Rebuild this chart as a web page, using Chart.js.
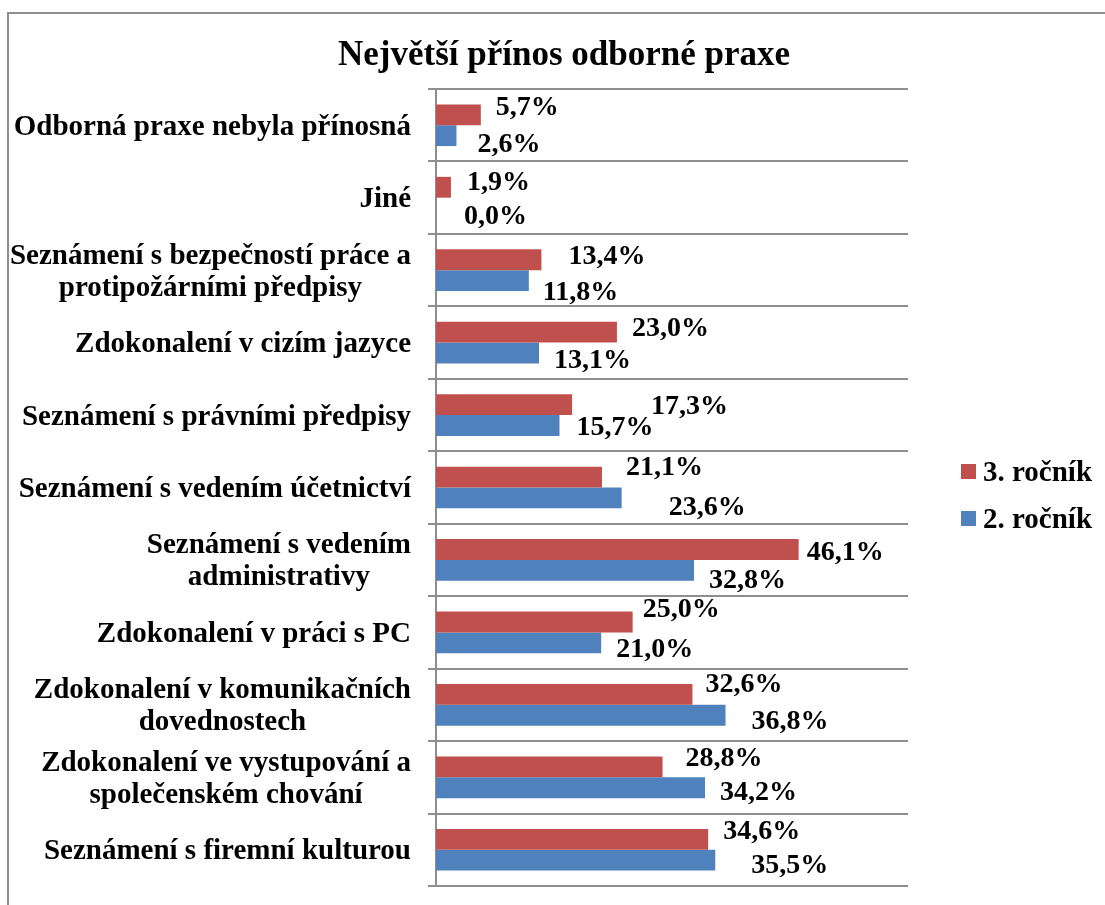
<!DOCTYPE html>
<html>
<head>
<meta charset="utf-8">
<script src="https://cdn.jsdelivr.net/npm/chart.js@4.4.0/dist/chart.umd.min.js"></script>
<style>
  html, body { margin: 0; padding: 0; background: #ffffff; }
  #wrap { position: relative; width: 1105px; height: 905px; }
</style>
</head>
<body>
<div id="wrap"><canvas id="c"></canvas></div>
<script>
const chartTitle = "Největší přínos odborné praxe";
const categories = [
  "Odborná praxe nebyla přínosná",
  "Jiné",
  ["Seznámení s bezpečností práce a", "protipožárními předpisy"],
  "Zdokonalení v cizím jazyce",
  "Seznámení s právními předpisy",
  "Seznámení s vedením účetnictví",
  ["Seznámení s vedením", "administrativy"],
  "Zdokonalení v práci s PC",
  ["Zdokonalení v komunikačních", "dovednostech"],
  ["Zdokonalení ve vystupování a", "společenském chování"],
  "Seznámení s firemní kulturou"
];
const seriesNames = ["3. ročník", "2. ročník"];
const values3 = [5.7, 1.9, 13.4, 23.0, 17.3, 21.1, 46.1, 25.0, 32.6, 28.8, 34.6];
const values2 = [2.6, 0.0, 11.8, 13.1, 15.7, 23.6, 32.8, 21.0, 36.8, 34.2, 35.5];

// label placement nudges (pixels, relative to bar end / bar centre), as in the original
const labelNudge3 = [[15,-9],[16,-7],[27,-5],[15,-6],[79,0],[24,-12],[8,1],[10,-14],[13,-12],[23,-10],[15,-10]];
const labelNudge2 = [[21,7],[28,6],[14,10],[15,5],[17,0],[47,8],[15,8],[15,5],[26,4],[15,3],[36,3]];

const RED = '#C0504D';
const BLUE = '#4F81BD';
const GRID = '#8e8e8e';
const FONT = '"Liberation Serif", "Times New Roman", serif';

function fmt(v) { return v.toFixed(1).replace('.', ',') + '%'; }

const customPlugin = {
  id: 'customDraw',
  beforeDraw(chart) {
    const ctx = chart.ctx;
    ctx.save();
    ctx.fillStyle = '#ffffff';
    ctx.fillRect(0, 0, chart.width, chart.height);
    ctx.strokeStyle = GRID;
    ctx.lineWidth = 2;
    ctx.strokeRect(8, 13, 1300, 1200);
    ctx.restore();
  },
  afterDraw(chart) {
    const ctx = chart.ctx;
    const ys = chart.scales.y;
    const area = chart.chartArea;
    ctx.save();
    ctx.fillStyle = '#000000';
    // title
    ctx.font = 'bold 35px ' + FONT;
    ctx.textAlign = 'center';
    ctx.textBaseline = 'alphabetic';
    ctx.fillText(chartTitle, 564, 65);
    // category labels: block right-aligned, lines centred within block
    ctx.font = 'bold 29px ' + FONT;
    const rightEdge = area.left - 25;
    const lineH = 32;
    chart.data.labels.forEach((lab, i) => {
      const lines = Array.isArray(lab) ? lab : [lab];
      const cy = ys.getPixelForValue(i);
      const w = Math.max(...lines.map(l => ctx.measureText(l).width));
      const cx = rightEdge - w / 2;
      const n = lines.length;
      lines.forEach((l, k) => {
        const base = cy + (k - (n - 1) / 2) * lineH + 9.5;
        ctx.textAlign = 'center';
        ctx.fillText(l, cx, base);
      });
    });
    // data labels
    ctx.font = 'bold 28px ' + FONT;
    const nudges = [labelNudge3, labelNudge2];
    chart.data.datasets.forEach((ds, di) => {
      const meta = chart.getDatasetMeta(di);
      meta.data.forEach((bar, i) => {
        const nd = nudges[di][i];
        ctx.textAlign = 'left';
        ctx.fillText(fmt(ds.data[i]), bar.x + nd[0], bar.y + nd[1] + 9.5);
      });
    });
    // legend
    ctx.font = 'bold 29px ' + FONT;
    const lx = area.right + 53;
    chart.data.datasets.forEach((ds, di) => {
      const top = 464 + di * 47;
      ctx.fillStyle = ds.backgroundColor;
      ctx.fillRect(lx, top, 15, 15);
      ctx.fillStyle = '#000000';
      ctx.textAlign = 'left';
      ctx.fillText(ds.label, lx + 22, top + 17);
    });
    ctx.restore();
  }
};

new Chart(document.getElementById('c'), {
  type: 'bar',
  data: {
    labels: categories,
    datasets: [
      { label: seriesNames[0], data: values3, backgroundColor: RED },
      { label: seriesNames[1], data: values2, backgroundColor: BLUE }
    ]
  },
  options: {
    indexAxis: 'y',
    responsive: true,
    maintainAspectRatio: false,
    animation: false,
    events: [],
    categoryPercentage: 0.575,
    barPercentage: 1.0,
    layout: { padding: { left: 428, right: 197, top: 89, bottom: 19 } },
    plugins: {
      legend: { display: false },
      title: { display: false },
      tooltip: { enabled: false }
    },
    scales: {
      x: {
        display: false,
        min: 0,
        max: 60
      },
      y: {
        offset: true,
        grid: {
          display: true,
          offset: true,
          color: GRID,
          lineWidth: 2,
          drawTicks: true,
          tickLength: 8,
          tickColor: GRID
        },
        border: { display: true, color: GRID, width: 2 },
        ticks: { display: false },
        afterFit(scale) { scale.width = 8; }
      }
    }
  },
  plugins: [customPlugin]
});
</script>
</body>
</html>
